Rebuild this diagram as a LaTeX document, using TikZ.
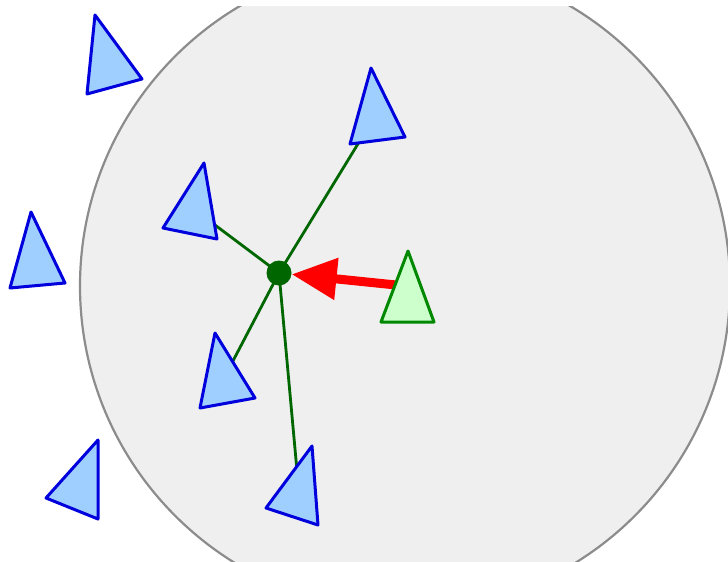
\documentclass[tikz,border=0pt]{standalone}
\usetikzlibrary{arrows.meta}

\definecolor{zonefill}{HTML}{EFEFEF}
\definecolor{zoneline}{HTML}{8C8C8C}
\definecolor{agentline}{HTML}{0000DD}
\definecolor{agentfill}{HTML}{9FCFFF}
\definecolor{selfline}{HTML}{008800}
\definecolor{selffill}{HTML}{CCFFCC}
\definecolor{linkgreen}{HTML}{006600}

\begin{document}
\begin{tikzpicture}[x=1pt, y=-1pt, line join=round,
    agent/.style={draw=agentline, fill=agentfill, line width=3pt},
    self/.style={draw=selfline, fill=selffill, line width=3pt},
    link/.style={draw=linkgreen, line width=2.8pt},
    hubdot/.style={circle, fill=linkgreen, inner sep=0pt, minimum size=25pt},
    pull/.style={draw=red, line width=9pt, -{Triangle[length=45pt, width=40pt]}}]
  \useasboundingbox (0,0) rectangle (728,562);
  % neighbourhood disc
  \begin{scope}
    \clip (0,6) rectangle (728,562);
    \draw[fill=zonefill, draw=zoneline, line width=2.2pt] (405,286) circle (325);
  \end{scope}
  % centre of the neighbours
  \coordinate (hub) at (279,273);
  % neighbour centres
  \coordinate (n1) at (375,116);
  \coordinate (n2) at (195,210);
  \coordinate (n3) at (223,380);
  \coordinate (n4) at (299,493);
  % links to the neighbours
  \foreach \n in {n1,n2,n3,n4}
    \draw[link] (hub) -- (\n);
  % neighbours inside the disc
  \draw[agent] (371,68) -- (405,137) -- (350,144) -- cycle;
  \draw[agent] (204,163) -- (217,239) -- (163,228) -- cycle;
  \draw[agent] (215,333) -- (255,398) -- (200,408) -- cycle;
  \draw[agent] (312,446) -- (318,525) -- (266,508) -- cycle;
  % agents outside the disc
  \draw[agent] (95,15) -- (142,79) -- (87,94) -- cycle;
  \draw[agent] (31,212) -- (65,283) -- (10,288) -- cycle;
  \draw[agent] (98,440) -- (98,519) -- (46,498) -- cycle;
  % centre dot
  \node[hubdot] (dot) at (hub) {};
  % steering towards the centre
  \coordinate (g0) at (396,285);
  \draw[pull] (g0) -- (dot);
  % the agent itself
  \draw[self] (408,251) -- (434,322) -- (381,322) -- cycle;
\end{tikzpicture}
\end{document}
